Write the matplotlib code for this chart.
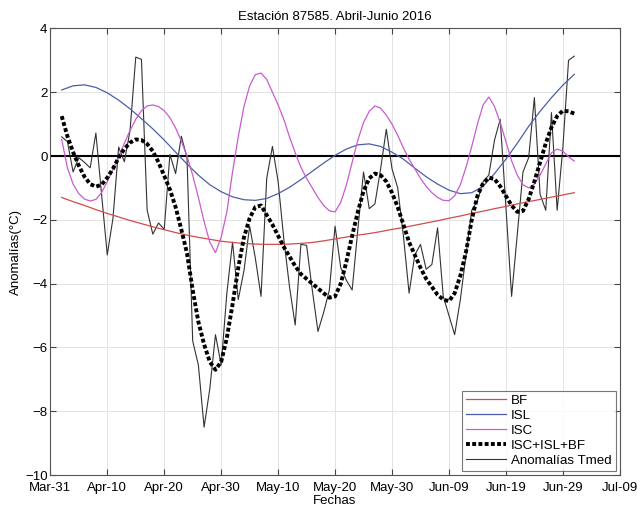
import matplotlib
matplotlib.use("Agg")
import matplotlib.pyplot as plt
import matplotlib.dates as mdates
import pandas as pd

plt.rcParams['font.family'] = ['Liberation Sans', 'DejaVu Sans']

# daily series, starting 2016-04-02
start = "2016-04-02"
anomalias = [0.6, 0.45, -0.5, -0.05, -0.2, -0.37, 0.72, -1.2, -3.1, -1.95,
             0.28, -0.18, 0.8, 3.1, 3.03, -1.7, -2.45, -2.1, -2.3, 0.05,
             -0.55, 0.62, -0.05, -5.8, -6.55, -8.5, -7.3, -5.6, -6.55, -4.3,
             -2.7, -4.5, -3.6, -2.2, -3.2, -4.4, -0.7, 0.3, -0.8, -2.6,
             -4.1, -5.3, -2.77, -2.8, -4.2, -5.5, -4.9, -4.2, -2.2, -3.5,
             -3.9, -4.2, -2.3, -0.5, -1.65, -1.5, -0.4, 0.84, -0.4, -1.0,
             -2.5, -4.3, -3.1, -2.77, -3.55, -3.4, -2.25, -4.4, -5.0, -5.6,
             -4.5, -3.1, -1.7, -1.4, -0.8, -0.6, 0.5, 1.15, -1.6, -4.4,
             -2.45, -0.5, -0.05, 1.83, -1.2, -1.7, 1.36, -1.7, 0.26, 3.0, 3.13]
ISC = [0.52, -0.37, -0.88, -1.18, -1.35, -1.41, -1.36, -1.15, -0.80, -0.42,
       -0.02, 0.40, 0.80, 1.15, 1.42, 1.57, 1.60, 1.55, 1.42, 1.20,
       0.88, 0.47, 0.00, -0.60, -1.30, -2.05, -2.70, -3.03, -2.55, -1.75,
       -0.50, 0.60, 1.55, 2.20, 2.55, 2.60, 2.40, 2.00, 1.60, 1.15,
       0.60, 0.10, -0.35, -0.70, -1.00, -1.30, -1.55, -1.72, -1.75, -1.45,
       -0.90, -0.20, 0.50, 1.05, 1.40, 1.57, 1.50, 1.28, 1.00, 0.65,
       0.25, -0.10, -0.40, -0.70, -0.95, -1.15, -1.30, -1.39, -1.40, -1.25,
       -0.90, -0.35, 0.30, 1.00, 1.60, 1.85, 1.55, 1.05, 0.45, -0.15,
       -0.60, -0.90, -1.00, -0.88, -0.60, -0.25, 0.10, 0.22, 0.15, -0.02, -0.16]
SUMA = [1.25, 0.62, 0.12, -0.30, -0.65, -0.88, -0.96, -0.90, -0.68, -0.40,
        -0.05, 0.22, 0.42, 0.52, 0.50, 0.38, 0.15, -0.20, -0.62, -1.05,
        -1.60, -2.30, -3.05, -4.20, -5.20, -5.90, -6.45, -6.70, -6.45, -5.70,
        -4.65, -3.50, -2.55, -1.95, -1.60, -1.55, -1.85, -2.15, -2.50, -2.85,
        -3.15, -3.45, -3.70, -3.85, -4.00, -4.15, -4.30, -4.44, -4.40, -4.00,
        -3.30, -2.50, -1.75, -1.10, -0.70, -0.55, -0.60, -0.80, -1.15, -1.60,
        -2.15, -2.70, -3.10, -3.50, -3.85, -4.10, -4.35, -4.50, -4.55, -4.30,
        -3.75, -3.00, -2.00, -1.25, -0.85, -0.68, -0.72, -0.95, -1.25, -1.55,
        -1.75, -1.72, -1.35, -0.80, -0.20, 0.40, 0.90, 1.25, 1.42, 1.40, 1.33]

# slow components sampled every 2 days, starting 2016-04-02
comp_start = "2016-04-02"
BF = [-1.30, -1.43, -1.55, -1.68, -1.80, -1.91, -2.02, -2.12, -2.22, -2.31,
      -2.40, -2.48, -2.55, -2.61, -2.67, -2.71, -2.74, -2.76, -2.77, -2.77,
      -2.76, -2.74, -2.71, -2.66, -2.60, -2.54, -2.48, -2.43, -2.37, -2.30,
      -2.24, -2.17, -2.10, -2.03, -1.95, -1.88, -1.80, -1.73, -1.65, -1.58,
      -1.50, -1.43, -1.36, -1.29, -1.22, -1.15]
ISL = [2.07, 2.20, 2.23, 2.15, 1.98, 1.75, 1.48, 1.17, 0.85, 0.50,
       0.12, -0.25, -0.60, -0.90, -1.12, -1.28, -1.37, -1.39, -1.33, -1.18,
       -0.98, -0.74, -0.48, -0.22, 0.02, 0.22, 0.35, 0.38, 0.30, 0.12,
       -0.10, -0.38, -0.65, -0.88, -1.07, -1.18, -1.15, -0.95, -0.55, -0.10,
       0.40, 0.93, 1.40, 1.83, 2.22, 2.56]

tick_dates = pd.date_range("2016-03-31", "2016-07-09", freq="10D")
yticks = [-10, -8, -6, -4, -2, 0, 2, 4]

d_day = pd.date_range(start, periods=len(anomalias), freq="D")
d_comp = pd.date_range(comp_start, periods=len(BF), freq="2D")

fig = plt.figure(figsize=(6.37, 5.07), dpi=100)
ax = fig.add_axes([0.079, 0.063, 0.894, 0.881])

ax.axhline(0, color="black", lw=1.5, zorder=1)
ax.plot(d_comp, BF, color="#d24b4b", lw=0.9, label="BF", zorder=3)
ax.plot(d_comp, ISL, color="#4e5ea6", lw=0.9, label="ISL", zorder=3)
ax.plot(d_day, ISC, color="#c95ccf", lw=0.9, label="ISC", zorder=3)
ax.plot(d_day, SUMA, color="black", lw=2.8, ls=(0, (1, 0.6)), label="ISC+ISL+BF", zorder=4)
ax.plot(d_day, anomalias, color="#333333", lw=0.8, label="Anomalías Tmed", zorder=2)

ax.set_xlim(tick_dates[0], tick_dates[-1])
ax.set_ylim(-10, 4)
ax.set_xticks(tick_dates)
ax.xaxis.set_major_formatter(mdates.DateFormatter("%b-%d"))
ax.set_yticks(yticks)
ax.grid(True, color="#e3e3e3", ls="-", lw=0.7)
ax.set_axisbelow(True)
ax.tick_params(direction="in", top=True, right=True, labelsize=9.5, length=4,
               color="#444444")
ax.tick_params(axis="x", pad=5)
ax.tick_params(axis="y", pad=2)
for s in ax.spines.values():
    s.set_color("#555555")
    s.set_linewidth(0.8)

ax.set_title("Estación 87585. Abril-Junio 2016", fontsize=9.5, pad=6)
ax.set_xlabel("Fechas", fontsize=9.5, labelpad=1)
ax.set_ylabel("Anomalías(°C)", fontsize=9.5, labelpad=2)

leg = ax.legend(loc="lower right", fontsize=9.6, handlelength=3.0, frameon=True,
                fancybox=False, borderpad=0.3, labelspacing=0.2, handletextpad=0.4,
                borderaxespad=0.3)
leg.get_frame().set_edgecolor("#555555")
leg.get_frame().set_linewidth(0.8)

fig.savefig("out.png", dpi=100)
